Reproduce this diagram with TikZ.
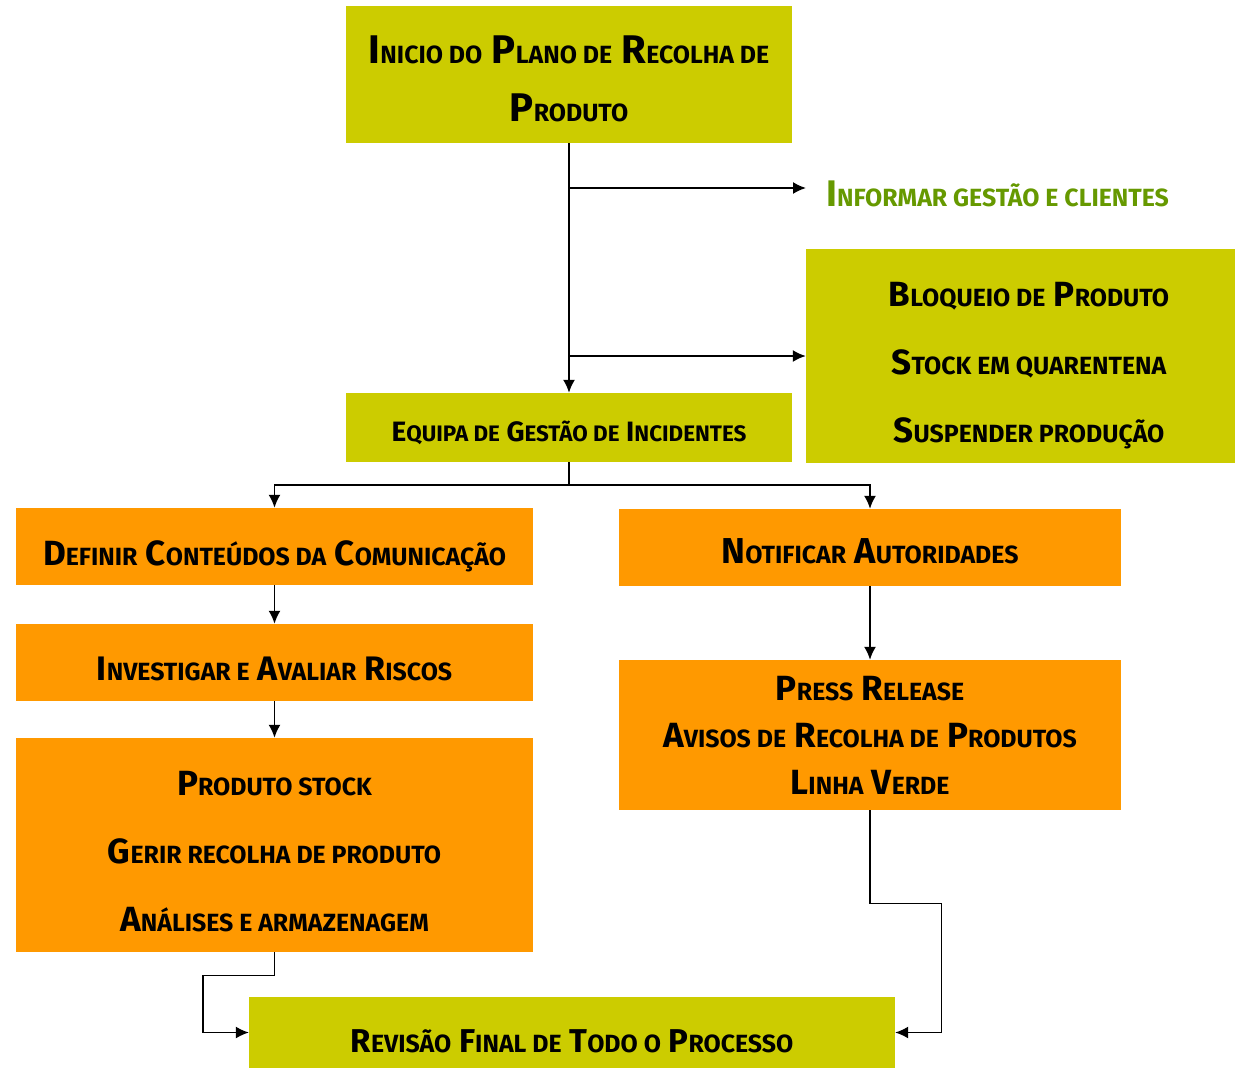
\documentclass[tikz,border=0pt]{standalone}
\usepackage{fontspec}
\setmainfont{Fira Sans}
\usepackage{relsize}
\usetikzlibrary{positioning}
\usetikzlibrary{arrows.meta}

\definecolor{lime}{HTML}{CCCC00}
\definecolor{amber}{HTML}{FF9900}
\definecolor{leaf}{HTML}{669900}

\newcommand\lo[1]{{\relscale{0.8}\MakeUppercase{#1}}}
\newcommand\lift[1]{\rule{0pt}{#1}}

\tikzset{
  greenbox/.style={fill=lime, align=center, inner sep=0pt,
    execute at begin node={\lift{#1}}},
  greenbox/.default=1.1em,
  orangebox/.style={fill=amber, align=center, inner sep=0pt,
    execute at begin node={\lift{#1}}},
  orangebox/.default=1.1em,
  link/.style={->, line width=1.8pt},
  thinlink/.style={->, line width=1.4pt}
}

\begin{document}
\begin{tikzpicture}[x=1pt, y=-1pt, >={Latex[length=13pt,width=12pt]}]
\useasboundingbox (0,0) rectangle (1235,1069);
\node[greenbox=0pt, minimum width=446pt, minimum height=137pt,
  font=\fontsize{40}{58}\selectfont\bfseries] (inicio) at (569,74.5)
  {\lift{0.89em}I\lo{nicio do} P\lo{lano de} R\lo{ecolha de}\\P\lo{roduto}};
\node[anchor=west, text=leaf, inner sep=0pt, inner xsep=20pt,
  text height=36pt, text depth=0pt,
  font=\fontsize{37}{40}\selectfont\bfseries] (informar) at (806,188)
  {I\lo{nformar gestão e clientes}};
\node[greenbox=0pt, minimum width=446pt, minimum height=214pt,
  font=\fontsize{35}{68}\selectfont\bfseries] (bloqueio) at (1029,356)
  {\lift{1.26em}B\lo{loqueio de} P\lo{roduto}\\S\lo{tock em quarentena}\\S\lo{uspender produção}};
\node[greenbox, minimum width=446pt, minimum height=69pt,
  font=\fontsize{28}{36}\selectfont\bfseries] (equipa) at (569,427.5)
  {E\lo{quipa de} G\lo{estão de} I\lo{ncidentes}};
\node[orangebox=1.25em, minimum width=517pt, minimum height=77pt,
  font=\fontsize{35}{40}\selectfont\bfseries] (definir) at (274.5,546.5)
  {D\lo{efinir} C\lo{onteúdos da} C\lo{omunicação}};
\node[orangebox, minimum width=517pt, minimum height=77pt,
  font=\fontsize{34}{40}\selectfont\bfseries] (investigar) at (274.5,662.5)
  {I\lo{nvestigar e} A\lo{valiar} R\lo{iscos}};
\node[orangebox=0pt, minimum width=517pt, minimum height=214pt,
  font=\fontsize{35}{68}\selectfont\bfseries] (stock) at (274.5,845)
  {\lift{1.09em}P\lo{roduto stock}\\G\lo{erir recolha de produto}\\A\lo{nálises e armazenagem}};
\node[orangebox=0.9em, minimum width=502pt, minimum height=77pt,
  font=\fontsize{36}{40}\selectfont\bfseries] (notificar) at (870,547.5)
  {N\lo{otificar} A\lo{utoridades}};
\node[orangebox=0pt, minimum width=502pt, minimum height=150pt,
  font=\fontsize{35}{47}\selectfont\bfseries] (press) at (870,735)
  {P\lo{ress} R\lo{elease}\\A\lo{visos de} R\lo{ecolha de} P\lo{rodutos}\\L\lo{inha} V\lo{erde}};
\node[greenbox=1.22em, minimum width=646pt, minimum height=71pt,
  font=\fontsize{33}{40}\selectfont\bfseries] (revisao) at (572,1032.5)
  {R\lo{evisão} F\lo{inal de} T\lo{odo o} P\lo{rocesso}};

% top trunk and its branches
\draw[link] (inicio.south) -- (equipa.north);
\draw[link] (inicio.south |- informar.west) -- (informar.west);
\draw[link] (inicio.south |- bloqueio.west) -- (bloqueio.west);
\draw[link] (equipa.south) -- ++(0,23) -| (definir.north);
\draw[link] (equipa.south) -- ++(0,23) -| (notificar.north);
% left column
\draw[link] (definir.south) -- (investigar.north);
\draw[link] (investigar.south) -- (stock.north);
% right column
\draw[link] (notificar.south) -- (press.north);
% towards the final review
\draw[thinlink] (stock.south) -- ++(0,23) -| ([xshift=-46pt]revisao.west) -- (revisao.west);
\draw[thinlink] (press.south) -- ++(0,93) -| ([xshift=46pt]revisao.east) -- (revisao.east);
\end{tikzpicture}
\end{document}
